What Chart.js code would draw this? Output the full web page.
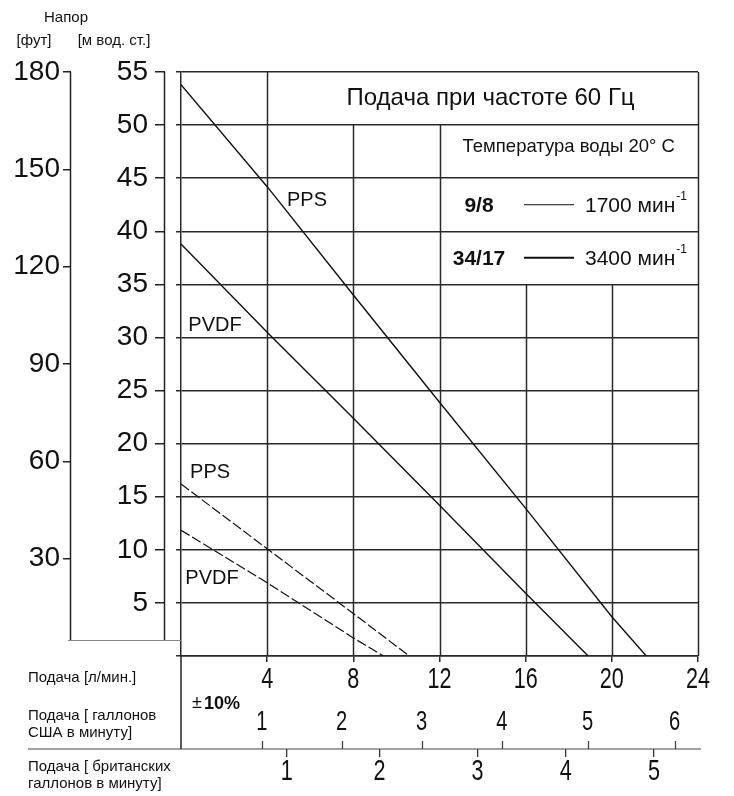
<!DOCTYPE html>
<html><head><meta charset="utf-8">
<script src="https://cdn.jsdelivr.net/npm/chart.js@4.4.1/dist/chart.umd.min.js"></script>
<style>html,body{margin:0;padding:0;background:#fff;}canvas{display:block;}</style>
</head><body>
<canvas id="c" width="734" height="796"></canvas>
<script>
// ---- data ----
const flowTicks = [4, 8, 12, 16, 20, 24];                 // л/мин
const headMTicks = [5, 10, 15, 20, 25, 30, 35, 40, 45, 50, 55];
const headFtTicks = [30, 60, 90, 120, 150, 180];
const usGpmLabels = ['1', '2', '3', '4', '5', '6'];
const usGpmAtFlow = [3.75, 7.46, 11.17, 14.89, 18.88, 22.91];   // л/мин where each US gpm tick sits
const impGpmLabels = ['1', '2', '3', '4', '5'];
const impGpmAtFlow = [4.91, 9.21, 13.77, 17.86, 21.96];         // л/мин where each imp. gpm tick sits

const ppsFlow3400 = [0, 4, 8, 12, 16, 20, 21.6];
const ppsHead3400 = [53.8, 44.2, 34.0, 23.9, 13.9, 3.7, 0];
const pvdfFlow3400 = [0, 4, 8, 12, 16, 18.9];
const pvdfHead3400 = [38.8, 30.5, 22.4, 14.2, 5.9, 0];
const ppsFlow1700 = [0, 4, 8, 10.6];
const ppsHead1700 = [16.2, 10.1, 4.0, 0];
const pvdfFlow1700 = [0, 4, 8, 9.4];
const pvdfHead1700 = [11.85, 6.9, 1.7, 0];

const toPts = (xs, ys) => xs.map((v, i) => ({x: v, y: ys[i]}));

const SANS = "'Liberation Sans', Arial, sans-serif";
const INK = '#111';
const GRID = '#2a2a2a';

function condText(ctx, text, x, y, sx, align) {
  ctx.save();
  ctx.translate(x, y);
  ctx.scale(sx, 1);
  ctx.textAlign = align;
  ctx.fillText(text, 0, 0);
  ctx.restore();
}

const deco = {
  id: 'deco',
  beforeDatasetsDraw(chart) {
    const {ctx, chartArea: a, scales: {x, y}} = chart;
    ctx.save();
    ctx.strokeStyle = GRID; ctx.lineWidth = 1.5;
    const vLines = [[4, 55], [8, 50], [12, 50], [16, 35], [20, 35], [24, 55]];
    vLines.forEach(([fx, top]) => {
      const px = Math.round(x.getPixelForValue(fx)) + 0.5;
      ctx.beginPath(); ctx.moveTo(px, y.getPixelForValue(top)); ctx.lineTo(px, a.bottom); ctx.stroke();
    });
    ctx.restore();
  },
  afterDraw(chart) {
    const {ctx, chartArea: a, scales: {x, y, yM, yFt, xUS, xImp}} = chart;
    ctx.save();
    // side axis lines
    const axEnd = a.bottom - 16;
    ctx.strokeStyle = '#222'; ctx.lineWidth = 1.5;
    [yFt.right - 0.5, yM.right - 0.5].forEach(px => {
      ctx.beginPath(); ctx.moveTo(px, a.top); ctx.lineTo(px, axEnd); ctx.stroke();
    });
    ctx.strokeStyle = '#888'; ctx.lineWidth = 1;
    ctx.beginPath(); ctx.moveTo(68, axEnd + 0.5); ctx.lineTo(a.left, axEnd + 0.5); ctx.stroke();
    // left frame continues down to gallon line
    const galY = xImp.top;
    ctx.strokeStyle = '#222'; ctx.lineWidth = 1.5;
    ctx.beginPath(); ctx.moveTo(a.left, a.bottom); ctx.lineTo(a.left, galY); ctx.stroke();
    ctx.strokeStyle = '#444'; ctx.lineWidth = 1.2;
    ctx.beginPath(); ctx.moveTo(28, galY); ctx.lineTo(a.right + 3, galY); ctx.stroke();
    // US gallon ticks (pointing up)
    ctx.lineWidth = 1.3;
    xUS.ticks.forEach(t => {
      const px = Math.round(xUS.getPixelForValue(t.value)) + 0.5;
      ctx.beginPath(); ctx.moveTo(px, galY - 8); ctx.lineTo(px, galY); ctx.stroke();
    });

    ctx.fillStyle = INK;
    ctx.textBaseline = 'middle';
    // axis tick labels (condensed lettering)
    ctx.font = `30px ${SANS}`;
    x.ticks.forEach((t, i) => condText(ctx, String(flowTicks[i]), x.getPixelForValue(t.value), x.top + 24, 0.72, 'center'));
    ctx.font = `28px ${SANS}`;
    xUS.ticks.forEach((t, i) => condText(ctx, usGpmLabels[i], xUS.getPixelForValue(t.value), xUS.top + 20, 0.72, 'center'));
    ctx.font = `30px ${SANS}`;
    xImp.ticks.forEach((t, i) => condText(ctx, impGpmLabels[i], xImp.getPixelForValue(t.value), xImp.top + 23, 0.72, 'center'));

    // top-left titles
    ctx.font = `15px ${SANS}`; ctx.textAlign = 'center';
    ctx.fillText('Напор', 66, 18);
    ctx.fillText('[фут]', 34, 41);
    ctx.fillText('[м вод. ст.]', 114, 41);
    // bottom-left labels
    ctx.textAlign = 'left';
    ctx.font = `15px ${SANS}`;
    ctx.fillText('Подача [л/мин.]', 28, 678);
    ctx.fillText('Подача [ галлонов', 28, 716);
    ctx.fillText('США в минуту]', 28, 733);
    ctx.fillText('Подача [ британских', 28, 767);
    ctx.fillText('галлонов в минуту]', 28, 784);
    ctx.font = `18px ${SANS}`;
    ctx.fillText('±', 192, 703);
    ctx.font = `bold 19px ${SANS}`;
    condText(ctx, '10%', 204, 704, 0.95, 'left');

    // title box text
    ctx.textAlign = 'center';
    ctx.font = `24px ${SANS}`;
    ctx.fillText('Подача при частоте 60 Гц', (x.getPixelForValue(4) + x.getPixelForValue(24)) / 2 + 8, y.getPixelForValue(52.5));
    // legend box
    const lx = (x.getPixelForValue(12) + x.getPixelForValue(24)) / 2;
    ctx.font = `18.5px ${SANS}`;
    ctx.fillText('Температура воды 20° C', lx, y.getPixelForValue(47.5) - 5);
    const rows = [['9/8', '1700', 42.5, 1], ['34/17', '3400', 37.5, 2]];
    rows.forEach(([model, rpm, v, lw]) => {
      const py = y.getPixelForValue(v);
      ctx.font = `bold 21px ${SANS}`;
      ctx.textAlign = 'center';
      ctx.fillText(model, 479, py + 1);
      ctx.strokeStyle = '#111'; ctx.lineWidth = lw;
      ctx.beginPath(); ctx.moveTo(524, py); ctx.lineTo(574, py); ctx.stroke();
      ctx.textAlign = 'left'; ctx.font = `21px ${SANS}`;
      ctx.fillText(rpm + ' мин', 585, py + 1);
      const w = ctx.measureText(rpm + ' мин').width;
      ctx.font = `12px ${SANS}`;
      ctx.fillText('-1', 585 + w + 1, py - 8);
    });

    // curve labels
    ctx.font = `20px ${SANS}`;
    ctx.textAlign = 'center';
    [['PPS', 5.85, 42.9], ['PVDF', 1.58, 31.1], ['PPS', 1.35, 17.3], ['PVDF', 1.44, 7.3]].forEach(([t, fx, fy]) => {
      ctx.fillText(t, x.getPixelForValue(fx), y.getPixelForValue(fy));
    });
    ctx.restore();
  }
};

const lineDs = (pts, w, dash) => ({
  data: pts, borderColor: '#111', borderWidth: w, borderDash: dash, pointRadius: 0,
  tension: 0, fill: false, xAxisID: 'x', yAxisID: 'y'
});

new Chart(document.getElementById('c'), {
  type: 'line',
  data: {
    datasets: [
      lineDs(toPts(ppsFlow3400, ppsHead3400), 1.4, []),
      lineDs(toPts(pvdfFlow3400, pvdfHead3400), 1.4, []),
      lineDs(toPts(ppsFlow1700, ppsHead1700), 1.2, [10, 3]),
      lineDs(toPts(pvdfFlow1700, pvdfHead1700), 1.2, [10, 3])
    ]
  },
  options: {
    responsive: false, animation: false, devicePixelRatio: 1,
    layout: {padding: {top: 72, right: 36, left: 0, bottom: 0}},
    plugins: {legend: {display: false}, tooltip: {enabled: false}, title: {display: false}},
    scales: {
      x: {
        type: 'linear', position: 'bottom', min: 0, max: 24,
        afterBuildTicks: s => { s.ticks = flowTicks.map(v => ({value: v})); },
        ticks: {display: false, autoSkip: false},
        grid: {drawOnChartArea: false, drawTicks: true, tickLength: 6, color: GRID, lineWidth: 1.5},
        border: {display: true, color: GRID, width: 1.5},
        afterFit: s => { s.height = 46; }
      },
      xUS: {
        type: 'linear', position: 'bottom', min: 0, max: 24,
        afterBuildTicks: s => { s.ticks = usGpmAtFlow.map(v => ({value: v})); },
        ticks: {display: false, autoSkip: false},
        grid: {display: false}, border: {display: false},
        afterFit: s => { s.height = 47; }
      },
      xImp: {
        type: 'linear', position: 'bottom', min: 0, max: 24,
        afterBuildTicks: s => { s.ticks = impGpmAtFlow.map(v => ({value: v})); },
        ticks: {display: false, autoSkip: false},
        grid: {drawOnChartArea: false, drawTicks: true, tickLength: 8, color: '#333', lineWidth: 1.3},
        border: {display: false},
        afterFit: s => { s.height = 47; }
      },
      y: {
        type: 'linear', position: 'left', min: 0, max: 55,
        ticks: {display: false, stepSize: 5},
        grid: {color: GRID, lineWidth: 1.5, drawTicks: true, tickLength: 5},
        border: {display: true, color: GRID, width: 1.5},
        afterFit: s => { s.width = 16; }
      },
      yM: {
        type: 'linear', position: 'left', min: 0, max: 55,
        afterBuildTicks: s => { s.ticks = headMTicks.map(v => ({value: v})); },
        ticks: {font: {family: SANS, size: 28}, color: INK, padding: 7},
        grid: {drawOnChartArea: false, drawTicks: true, tickLength: 10, color: '#222', lineWidth: 1.5},
        border: {display: false},
        afterFit: s => { s.width = 94; }
      },
      yFt: {
        type: 'linear', position: 'left', min: 0, max: 180,
        afterBuildTicks: s => { s.ticks = headFtTicks.map(v => ({value: v})); },
        ticks: {font: {family: SANS, size: 28}, color: INK, padding: 3},
        grid: {drawOnChartArea: false, drawTicks: true, tickLength: 8, color: '#222', lineWidth: 1.5},
        border: {display: false},
        afterFit: s => { s.width = 71; }
      }
    }
  },
  plugins: [deco]
});
</script>
</body></html>
